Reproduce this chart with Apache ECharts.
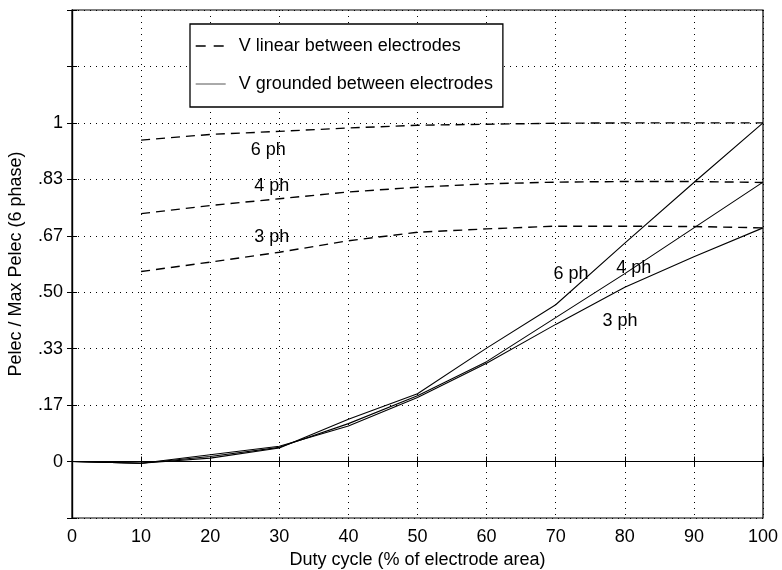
<!DOCTYPE html>
<html>
<head>
<meta charset="utf-8">
<script src="https://cdn.jsdelivr.net/npm/echarts@6/dist/echarts.min.js"></script>
<style>
html,body{margin:0;padding:0;background:#fff;}
#chart{width:782px;height:570px;}
</style>
</head>
<body>
<div id="chart"></div>
<script>
// Duty cycle (% of electrode area)
const dutyFull = [0, 10, 20, 30, 40, 50, 60, 70, 80, 90, 100];
const dutyLinear = [10, 20, 30, 40, 50, 60, 70, 80, 90, 100];

// V linear between electrodes (dashed)
const linear6 = [0.949, 0.966, 0.975, 0.985, 0.993, 0.996, 0.999, 1.0, 1.0, 1.0];
const linear4 = [0.732, 0.756, 0.776, 0.796, 0.810, 0.820, 0.825, 0.827, 0.827, 0.824];
const linear3 = [0.561, 0.589, 0.618, 0.652, 0.677, 0.687, 0.695, 0.695, 0.694, 0.690];

// V grounded between electrodes (solid)
const grounded6 = [0, -0.005, 0.010, 0.040, 0.125, 0.200, 0.335, 0.463, 0.645, 0.824, 1.0];
const grounded4 = [0, -0.005, 0.015, 0.042, 0.112, 0.194, 0.295, 0.425, 0.555, 0.690, 0.825];
const grounded3 = [0, -0.005, 0.020, 0.045, 0.105, 0.189, 0.290, 0.405, 0.515, 0.605, 0.690];

// y tick labels (in sixths of max)
const yTickLabels = {0: '0', 1: '.17', 2: '.33', 3: '.50', 4: '.67', 5: '.83', 6: '1'};
const xTicks = [0, 10, 20, 30, 40, 50, 60, 70, 80, 90, 100];

// curve annotations [x, y, text]
const annotations = [
  [28.4, 0.919, '6 ph'],
  [28.9, 0.813, '4 ph'],
  [28.9, 0.662, '3 ph'],
  [72.2, 0.555, '6 ph'],
  [81.3, 0.570, '4 ph'],
  [79.3, 0.416, '3 ph']
];

const nameLinear = 'V linear between electrodes';
const nameGround = 'V grounded between electrodes';
const FONT = 'Liberation Sans, Arial, Helvetica, sans-serif';
const FS = 18;

function pairs(xs, ys) { return xs.map((x, i) => [x, ys[i]]); }

function lineSeries(name, xs, ys, dashed) {
  return {
    type: 'line',
    name: name,
    data: pairs(xs, ys),
    symbol: 'none',
    smooth: false,
    silent: true,
    animation: false,
    lineStyle: dashed
      ? { color: '#000', width: 1.4, type: [9, 6] }
      : { color: '#000', width: 1.1, type: 'solid' },
    itemStyle: { color: '#000' }
  };
}

const chart = echarts.init(document.getElementById('chart'), null, { renderer: 'canvas' });

const dotted = { show: true, lineStyle: { color: '#000', width: 1, type: [1, 5] } };
const hiddenSymbol = { color: 'rgba(0,0,0,0)', borderWidth: 0, opacity: 0 };

chart.setOption({
  backgroundColor: '#fff',
  animation: false,
  textStyle: { fontFamily: FONT },
  grid: {
    left: 72, right: 19, top: 10, bottom: 52,
    containLabel: false, outerBoundsMode: 'none',
    show: true, borderColor: '#000', borderWidth: 1.2, backgroundColor: 'transparent'
  },
  legend: {
    data: [
      { name: nameLinear, lineStyle: { color: '#000', width: 1.4, type: [10, 8] }, itemStyle: hiddenSymbol },
      { name: nameGround, lineStyle: { color: '#555', width: 1, type: 'solid' }, itemStyle: hiddenSymbol }
    ],
    itemStyle: hiddenSymbol,
    orient: 'vertical',
    left: 190, top: 24,
    itemWidth: 30, itemHeight: 14, itemGap: 20,
    padding: [13, 10, 14, 5],
    borderColor: '#000', borderWidth: 1.3,
    backgroundColor: '#fff',
    textStyle: { fontFamily: FONT, fontSize: FS, color: '#000', padding: [0, 0, 0, 8] },
    selectedMode: false
  },
  xAxis: [{
    type: 'value', min: 0, max: 100, interval: 10,
    name: 'Duty cycle (% of electrode area)',
    nameLocation: 'middle', nameGap: 31,
    nameTextStyle: { fontFamily: FONT, fontSize: FS, color: '#000' },
    axisLine: { show: true, lineStyle: { color: '#000', width: 1.2 } },
    axisTick: { show: true, inside: true, length: 5, lineStyle: { color: '#000' } },
    axisLabel: { fontFamily: FONT, fontSize: FS, color: '#000', margin: 10,
      formatter: v => xTicks.includes(v) ? String(v) : '' },
    splitLine: dotted
  }, {
    type: 'value', min: 0, max: 100, interval: 10, position: 'top',
    axisLine: { show: true, lineStyle: { color: '#000', width: 1.2 } },
    axisTick: { show: true, inside: true, length: 5, lineStyle: { color: '#000' } },
    axisLabel: { show: false },
    splitLine: { show: false }
  }],
  yAxis: [{
    type: 'value', min: -1 / 6, max: 8 / 6, interval: 1 / 6,
    name: 'Pelec / Max Pelec (6 phase)',
    nameLocation: 'middle', nameGap: 47, nameRotate: 90,
    nameTextStyle: { fontFamily: FONT, fontSize: FS, color: '#000' },
    axisLine: { show: true, lineStyle: { color: '#000', width: 1.2 } },
    axisTick: { show: true, inside: true, length: 5, lineStyle: { color: '#000' } },
    axisLabel: { fontFamily: FONT, fontSize: FS, color: '#000', margin: 9,
      formatter: v => { const k = Math.round(v * 6); return yTickLabels[k] !== undefined ? yTickLabels[k] : ''; } },
    splitLine: dotted
  }, {
    type: 'value', min: -1 / 6, max: 8 / 6, interval: 1 / 6, position: 'right',
    axisLine: { show: true, lineStyle: { color: '#000', width: 1.2 } },
    axisTick: { show: true, inside: true, length: 5, lineStyle: { color: '#000' } },
    axisLabel: { show: false },
    splitLine: { show: false }
  }],
  series: [
    lineSeries(nameLinear, dutyLinear, linear6, true),
    lineSeries(nameLinear, dutyLinear, linear4, true),
    lineSeries(nameLinear, dutyLinear, linear3, true),
    lineSeries(nameGround, dutyFull, grounded6, false),
    lineSeries(nameGround, dutyFull, grounded4, false),
    lineSeries(nameGround, dutyFull, grounded3, false),
    {
      type: 'scatter',
      name: 'labels',
      data: annotations.map(a => ({ value: [a[0], a[1]], name: a[2] })),
      symbolSize: 0,
      silent: true,
      itemStyle: { opacity: 1, color: '#000' },
      label: {
        show: true, position: 'inside', opacity: 1,
        formatter: p => p.name,
        fontFamily: FONT, fontSize: FS, color: '#000', textBorderWidth: 0
      }
    }
  ]
});
</script>
</body>
</html>
